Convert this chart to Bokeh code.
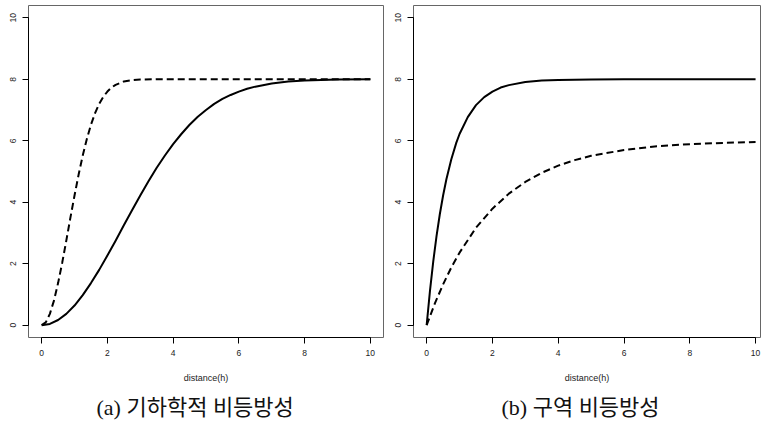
from bokeh.plotting import figure
from bokeh.layouts import row
from bokeh.models import Range1d, FixedTicker, Title
from bokeh.embed import file_html
from bokeh.resources import INLINE

# ---- data ----
ticks = [0, 2, 4, 6, 8, 10]
x_label = "distance(h)"
caption_a = "(a) 기하학적 비등방성"
caption_b = "(b) 구역 비등방성"

# panel (a): geometric anisotropy
a_solid_x = [0, 0.25, 0.5, 0.75, 1, 1.25, 1.5, 1.75, 2, 2.25, 2.5, 2.75, 3, 3.25, 3.5,
             3.75, 4, 4.25, 4.5, 4.75, 5, 5.25, 5.5, 5.75, 6, 6.25, 6.5, 7, 7.5, 8, 8.5, 9, 10]
a_solid_y = [0, 0.04, 0.17, 0.37, 0.64, 0.98, 1.37, 1.80, 2.27, 2.75, 3.25, 3.74, 4.22, 4.68, 5.12,
             5.52, 5.89, 6.22, 6.52, 6.78, 7.00, 7.20, 7.36, 7.49, 7.60, 7.69, 7.76, 7.86, 7.93, 7.96, 7.98, 7.99, 8.00]
a_dash_x = [0, 0.125, 0.25, 0.375, 0.5, 0.625, 0.75, 0.875, 1, 1.125, 1.25, 1.375, 1.5, 1.625,
            1.75, 1.875, 2, 2.125, 2.25, 2.5, 2.75, 3, 3.5, 4, 5, 6, 7, 8, 9, 10]
a_dash_y = [0, 0.09, 0.37, 0.80, 1.37, 2.03, 2.75, 3.50, 4.22, 4.90, 5.52, 6.06, 6.52, 6.90,
            7.20, 7.43, 7.60, 7.73, 7.82, 7.93, 7.97, 7.99, 8.00, 8, 8, 8, 8, 8, 8, 8]

# panel (b): zonal anisotropy
b_solid_x = [0, 0.1, 0.2, 0.3, 0.4, 0.5, 0.6, 0.75, 0.9, 1, 1.25, 1.5, 1.75, 2, 2.25, 2.5,
             3, 3.5, 4, 5, 6, 7, 8, 9, 10]
b_solid_y = [0, 1.11, 2.07, 2.90, 3.61, 4.22, 4.75, 5.40, 5.93, 6.22, 6.77, 7.16, 7.42, 7.60, 7.73, 7.81,
             7.91, 7.96, 7.98, 7.995, 8, 8, 8, 8, 8]
b_dash_x = [0, 0.25, 0.5, 0.75, 1, 1.5, 2, 2.5, 3, 3.5, 4, 4.5, 5, 6, 7, 8, 9, 10]
b_dash_y = [0, 0.71, 1.33, 1.88, 2.36, 3.17, 3.79, 4.28, 4.66, 4.96, 5.19, 5.37, 5.51, 5.70, 5.82, 5.89, 5.93, 5.96]

CAP_FONT = "'Liberation Serif', 'Noto Sans CJK KR'"


def panel(width, bl, br, xend, sx, sy, dx, dy, caption, cap_offset):
    p = figure(width=width, height=426, output_backend="svg", toolbar_location=None,
               x_range=Range1d(-0.4, xend), y_range=Range1d(-0.4, 10.4),
               min_border_left=bl, min_border_right=br, min_border_top=5,
               min_border_bottom=88)
    p.grid.visible = False
    p.outline_line_color = "#666666"
    p.outline_line_width = 1
    p.background_fill_color = "white"
    p.border_fill_color = "white"
    for ax in (p.xaxis[0], p.yaxis[0]):
        ax.ticker = FixedTicker(ticks=ticks)
        ax.bounds = (0, 10)
        ax.axis_line_color = "black"
        ax.axis_line_width = 1
        ax.major_tick_line_color = "black"
        ax.major_tick_out = 6
        ax.major_tick_in = 0
        ax.minor_tick_line_color = None
        ax.major_label_text_font = "Liberation Sans"
        ax.major_label_text_font_size = "8.5px"
        ax.major_label_text_color = "#222222"
    p.yaxis[0].major_label_orientation = "vertical"
    p.yaxis[0].major_label_standoff = 6
    p.xaxis[0].major_label_standoff = 6
    p.xaxis[0].axis_label = x_label
    p.xaxis[0].axis_label_text_font = "Liberation Sans"
    p.xaxis[0].axis_label_text_font_size = "9px"
    p.xaxis[0].axis_label_text_font_style = "normal"
    p.xaxis[0].axis_label_text_color = "#222222"
    p.xaxis[0].axis_label_standoff = 14

    p.line(sx, sy, line_color="black", line_width=2, line_join="round")
    p.line(dx, dy, line_color="black", line_width=2, line_dash="7 4")

    t = Title(text=caption, align="left", offset=cap_offset,
              text_font=CAP_FONT, text_font_size="22px", text_font_style="normal",
              text_color="#111111", standoff=14)
    p.add_layout(t, "below")
    return p


pa = panel(390, 28, 7, 10.4, a_solid_x, a_solid_y, a_dash_x, a_dash_y, caption_a, 68)
pb = panel(371, 23, 1, 10.15, b_solid_x, b_solid_y, b_dash_x, b_dash_y, caption_b, 88)

layout = row(pa, pb, spacing=0)
open("out.html", "w").write(file_html(layout, INLINE))
